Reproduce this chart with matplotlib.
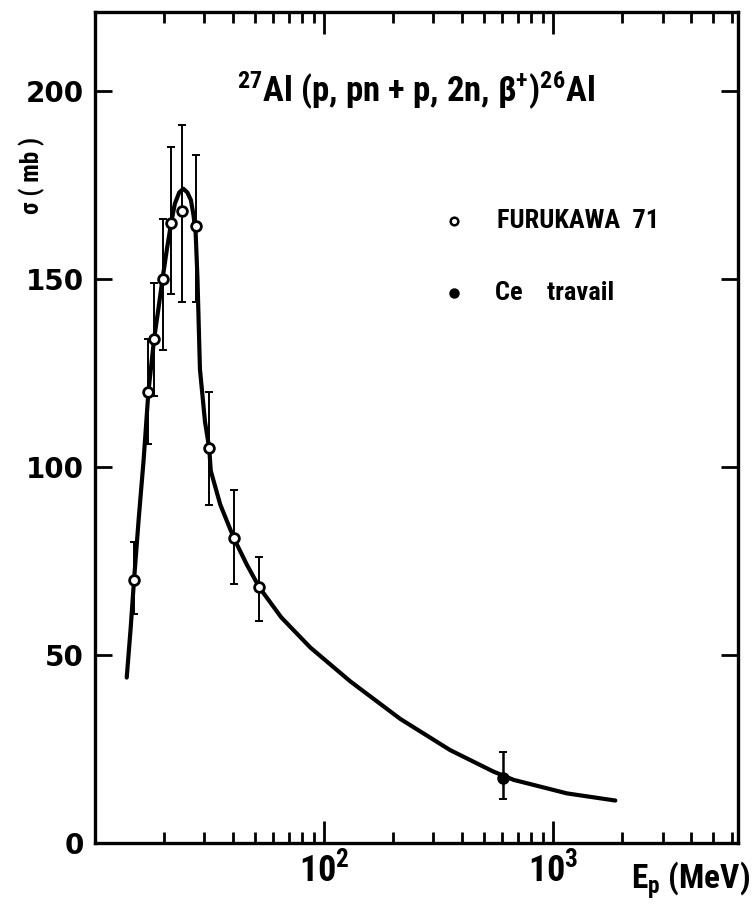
import numpy as np
import matplotlib
matplotlib.use("Agg")
import matplotlib.pyplot as plt
from matplotlib import font_manager
from matplotlib.ticker import FixedLocator, FixedFormatter, NullFormatter

plt.rcParams["mathtext.default"] = "regular"

# Smooth fitted excitation curve (E in MeV, sigma in mb)
curve_E = [13.75, 14.3, 14.8, 15.5, 16.3, 17.1, 18.1, 19.0, 19.7, 20.6, 21.5,
           22.3, 23.3, 24.3, 25.3, 26.2, 26.9, 27.5, 28.0, 28.7, 30.2, 31.5,
           32.0, 35.2, 40.4, 46.0, 52.1, 65.0, 87.0, 130.0, 215.0, 355.0,
           548.0, 671.0, 1148.0, 1866.0]
curve_sigma = [44, 57, 70, 86, 102, 120, 134, 143, 150, 158, 165,
               170, 173, 174, 173, 171, 167, 162, 150, 126, 112, 105,
               99, 90, 81, 74, 68, 60, 52, 43, 33, 24.7,
               19.0, 16.8, 13.2, 11.3]

# FURUKAWA 71 measurements
fur_E = [14.8, 17.1, 18.1, 19.7, 21.5, 23.9, 27.5, 31.5, 40.4, 52.1]
fur_sigma = [70, 120, 134, 150, 165, 168, 164, 105, 81, 68]
fur_hi = [80, 134, 149, 166, 185, 191, 183, 120, 94, 76]
fur_lo = [61, 106, 119, 131, 146, 144, 144, 90, 69, 59]

# Present work
ce_E = [601]
ce_sigma = [17.4]
ce_hi = [24.3]
ce_lo = [11.7]

y_ticks = [0, 50, 100, 150, 200]
x_major = [100, 1000]
x_major_labels = ["10$^2$", "10$^3$"]
x_minor = [20, 30, 40, 50, 60, 70, 80, 90,
           200, 300, 400, 500, 600, 700, 800, 900,
           2000, 3000, 4000, 5000, 6000]


def narrow_font():
    """Pick an installed condensed sans face for the lettering."""
    entries = font_manager.fontManager.ttflist
    names = {f.name for f in entries}
    for name in ["Liberation Sans Narrow", "Roboto Condensed",
                 "Open Sans Condensed", "Noto Sans Condensed"]:
        if name in names:
            return dict(family=[name, "DejaVu Sans"])
    for f in entries:
        if f.name == "DejaVu Sans" and f.stretch == "condensed" \
                and f.weight in ("bold", 700):
            return dict(family=["DejaVu Sans"], fontstretch="condensed")
    for name in ["Liberation Sans", "Roboto"]:
        if name in names:
            return dict(family=[name, "DejaVu Sans"])
    return dict(family=["DejaVu Sans"])


NARROW = narrow_font()
NARROW_FP = {k.replace("fontstretch", "stretch"): v for k, v in NARROW.items()}

fig = plt.figure(figsize=(7.53, 9.06), dpi=100)
ax = fig.add_axes([0.1262, 0.0695, 0.8539, 0.9172])
ax.set_xscale("log")
ax.set_xlim(10, 6400)
ax.set_ylim(0, 221)

ax.plot(curve_E, curve_sigma, color="black", lw=3.0, solid_capstyle="round",
        zorder=2)

fur_sigma_a = np.array(fur_sigma)
ax.errorbar(fur_E, fur_sigma,
            yerr=[fur_sigma_a - np.array(fur_lo), np.array(fur_hi) - fur_sigma_a],
            fmt="none", ecolor="black", elinewidth=1.4, capsize=3, capthick=1.4,
            zorder=3)
ax.plot(fur_E, fur_sigma, "o", ms=7, mfc="white", mec="black", mew=2.0,
        zorder=4)

ce_sigma_a = np.array(ce_sigma)
ax.errorbar(ce_E, ce_sigma,
            yerr=[ce_sigma_a - np.array(ce_lo), np.array(ce_hi) - ce_sigma_a],
            fmt="none", ecolor="black", elinewidth=1.8, capsize=3, capthick=1.4,
            zorder=3)
ax.plot(ce_E, ce_sigma, "o", ms=8, color="black", zorder=4)

for s in ax.spines.values():
    s.set_linewidth(2.4)

ax.xaxis.set_major_locator(FixedLocator(x_major))
ax.xaxis.set_major_formatter(FixedFormatter(x_major_labels))
ax.xaxis.set_minor_locator(FixedLocator(x_minor))
ax.xaxis.set_minor_formatter(NullFormatter())
ax.set_yticks(y_ticks)
ax.set_yticklabels([str(v) for v in y_ticks])

ax.tick_params(axis="x", which="major", direction="in", length=16, width=2.0,
               top=True, bottom=True, pad=6)
ax.tick_params(axis="x", which="minor", direction="in", length=8, width=2.0,
               top=True, bottom=True)
ax.tick_params(axis="y", which="major", direction="in", length=12, width=2.0,
               left=True, right=True, pad=8, labelsize=20)
for lab in ax.get_xticklabels():
    lab.set_fontproperties(font_manager.FontProperties(
        weight="bold", size=26, **NARROW_FP))
for lab in ax.get_yticklabels():
    lab.set_family(["DejaVu Sans"])
    lab.set_fontweight("bold")

ax.text(0.50, 0.892, "$^{27}$Al (p, pn + p, 2n, β$^{+}$)$^{26}$Al",
        transform=ax.transAxes, ha="center", va="baseline", fontsize=25,
        fontweight="bold", **NARROW)

# Legend drawn as free-standing symbols and labels
ax.plot([0.559], [0.749], "o", ms=5.5, mfc="white", mec="black", mew=1.8,
        transform=ax.transAxes)
ax.text(0.625, 0.749, "FURUKAWA  71", transform=ax.transAxes, ha="left",
        va="center", fontsize=19, fontweight="bold", **NARROW)
ax.plot([0.559], [0.662], "o", ms=6.5, color="black", transform=ax.transAxes)
ax.text(0.622, 0.662, "Ce    travail", transform=ax.transAxes, ha="left",
        va="center", fontsize=19, fontweight="bold", **NARROW)

fig.text(32 / 753, 1 - 175 / 906, "σ ( mb )", rotation=90, ha="center",
         va="center", fontsize=18, fontweight="bold", **NARROW)
fig.text(750 / 753, 1 - 880 / 906, "E$_p$ (MeV)", ha="right", va="center",
         fontsize=24, fontweight="bold", **NARROW)

fig.savefig("out.png", dpi=100)
